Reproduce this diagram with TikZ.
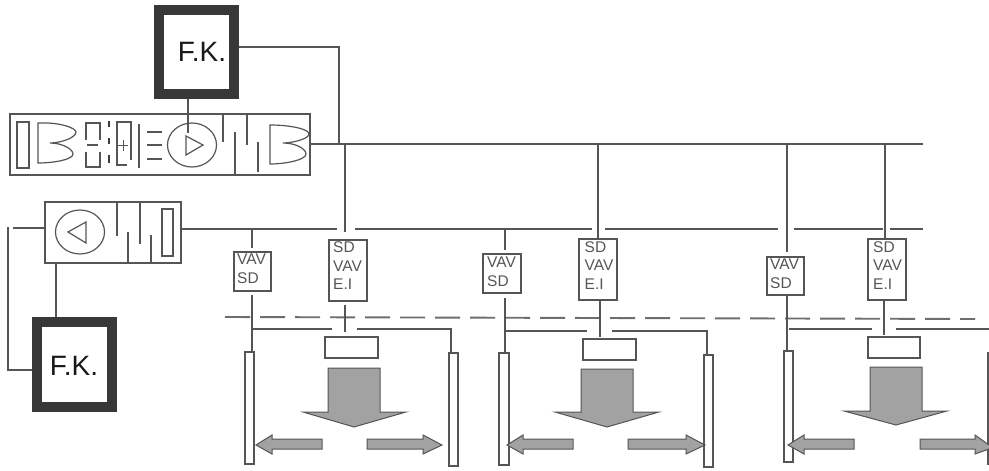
\documentclass[tikz,border=0pt]{standalone}
\usepackage{fontspec}
\usetikzlibrary{shapes.geometric}
\setmainfont{Liberation Sans}
\definecolor{ln}{HTML}{555555}
\definecolor{fkc}{HTML}{383838}
\definecolor{grayfill}{HTML}{A2A2A2}
\newcommand{\bx}[6][plain]{%
  \pgfmathsetmacro{\cxx}{(#3+#5)/2}\pgfmathsetmacro{\cyy}{(#4+#6)/2}%
  \pgfmathsetmacro{\wdd}{#5-#3}\pgfmathsetmacro{\htt}{#6-#4}%
  \node[#1,minimum width=\wdd pt,minimum height=\htt pt] (#2) at (\cxx,\cyy) {};}
\tikzset{
  plain/.style={draw=ln,line width=1.2pt,fill=white,inner sep=0pt,outer sep=0pt},
  fkbox/.style={draw=fkc,line width=10pt,fill=white,inner sep=0pt,outer sep=0pt},
  wire/.style={draw=ln,line width=1.2pt},
  flow/.style={draw=ln,line width=1pt,fill=grayfill,line join=miter},
  fk/.style={font=\fontsize{28}{28}\selectfont,text=black!90,inner sep=0pt},
  vavtxt/.style={font=\fontsize{15.5}{18.5}\selectfont,text=ln,align=left,inner sep=0pt,anchor=north west},
  ceiling/.style={draw=ln!85,line width=1.9pt,dash pattern=on 25pt off 10pt},
  fan/.style={draw=ln,line width=1.2pt,ellipse,minimum width=49pt,minimum height=44pt,inner sep=0pt,outer sep=0pt,fill=white}
}
\begin{document}
\begin{tikzpicture}[x=1pt,y=-1pt]
\useasboundingbox (0,0) rectangle (989,471);
\fill[white] (0,0) rectangle (989,471);
% ---- main ducts
\coordinate (sA) at (310,144);\coordinate (sE) at (923,144);
\coordinate (s1) at (345,144);\coordinate (s2) at (598,144);\coordinate (s3) at (787,144);\coordinate (s4) at (885,144);
\coordinate (r1) at (252,229);\coordinate (r2) at (505,229);
\draw[wire] (sA) -- (sE);
% ---- fan coil boxes
\bx[fkbox]{fkA}{159}{9.5}{234}{94}
\node[fk] (fkAt) at (202,51.5) {F.K.};
\bx[fkbox]{fkB}{37}{322}{111.5}{407}
\node[fk] (fkBt) at (74,365.5) {F.K.};
% ---- supply AHU
\bx{ahuA}{10}{114}{310}{175}
\bx{a1}{17}{122}{29}{168}
\draw[wire] (38,123) .. controls (60,122) and (76,128) .. (76,132) .. controls (76,138) and (60,143) .. (50,143) .. controls (62,143) and (73,149) .. (73,154) .. controls (73,160) and (52,163) .. (38,163) -- cycle;
\draw[wire] (86,140) -- (86,123) -- (100,123) -- (100,140);
\draw[wire] (86,152) -- (86,167) -- (100,167) -- (100,152);
\draw[wire] (87,145) -- (98,145);
\draw[draw=ln!70!black,line width=2.2pt] (109,121) -- (109,127) (109,138) -- (109,144) (109,155) -- (109,163);
\draw[wire] (127,165) -- (117,165) -- (117,122) -- (131,122) -- (131,160);
\draw[wire,line width=.9pt] (118,145) -- (128,145) (123,140) -- (123,151);
\draw[wire] (139,124) -- (139,168);
\draw[wire] (147,132) -- (162,132) (147,145) -- (162,145) (147,159) -- (162,159);
\node[fan] (fanA) at (192,145) {};
\draw[wire] (186,136) -- (203,145) -- (186,155) -- cycle;
\draw[wire] (223,114) -- (223,142) (247,114) -- (247,145) (235,132) -- (235,175) (258,142) -- (258,172);
\draw[wire] (270,125) .. controls (290,125) and (309,129) .. (309,134) .. controls (309,139) and (292,143) .. (283,143) .. controls (296,143) and (306,149) .. (306,154) .. controls (306,160) and (285,164) .. (270,164) -- cycle;
% ---- return AHU
\bx{ahuB}{45}{202}{181}{263}
\node[fan] (fanB) at (80,232) {};
\draw[wire] (68,232) -- (86,222) -- (86,243) -- cycle;
\draw[wire] (117,202) -- (117,236) (140,202) -- (140,244) (128,232) -- (128,263) (151,235) -- (151,263);
\bx{b1}{162}{209}{173}{256}
% ---- fan-coil wiring
\draw[wire] (188,99) -- (188,133);
\draw[wire] (239,47) -- (339,47) -- (339,143);
\draw[wire] (56,263) -- (56,317);
\coordinate (lt) at (13,228);
\draw[wire] (ahuB.west |- lt) -- (lt);
\draw[wire] (8,227) -- (8,370) -- (32,370);
% ---- return duct
\draw[wire] (181,229) -- (337,229) (355,229) -- (592,229) (605,229) -- (778,229) (794,229) -- (883,229) (890,229) -- (923,229);
% ---- ceiling line
\draw[ceiling] (225,317) -- (975,319);
% ---- Unit 1
\bx{va}{234}{252}{271}{291}
\node[vavtxt] (vat) at (237,254) {VAV\\SD};
\bx{sa}{329}{240}{367}{301}
\node[vavtxt] (sat) at (333,241.5) {SD\\VAV\\E.I};
\draw[wire,shorten >=4.5pt] (r1) -- (r1 |- va.north);
\draw[wire] (252,295) -- (252,352);
\draw[wire,shorten >=8pt] (s1) -- (s1 |- sa.north);
\draw[wire] (345,305) -- (345,332);
\draw[wire] (252,329) -- (332,329) (357,329) -- (451,329) -- (451,353);
\bx{da}{325}{337}{378}{358}
\bx{la}{245}{352}{254}{464}
\bx{ra}{449}{353}{458}{466}
\draw[flow] (328,368) -- (380,368) -- (380,412) -- (406,412) -- (354,427) -- (303,412) -- (328,412) -- cycle;
\draw[flow] (256,445) -- (272,435) -- (272,439) -- (322,439) -- (322,449) -- (272,449) -- (272,454) -- cycle;
\draw[flow] (442,445) -- (423,435) -- (423,439) -- (367,439) -- (367,449) -- (423,449) -- (423,454) -- cycle;
% ---- Unit 2
\bx{vb}{483}{254}{521}{293}
\node[vavtxt] (vbt) at (487,257) {VAV\\SD};
\bx{sb}{579}{239}{617}{300}
\node[vavtxt] (sbt) at (584.5,241) {SD\\VAV\\E.I};
\draw[wire,shorten >=4pt] (r2) -- (r2 |- vb.north);
\draw[wire] (505,298) -- (505,352);
\draw[wire] (s2) -- (s2 |- sb.north);
\draw[wire] (600,300) -- (600,337);
\draw[wire] (505,331) -- (587,331) (612,331) -- (707,331) -- (707,355);
\bx{db}{583}{339}{636}{360}
\bx{lb}{499}{353}{509}{465}
\bx{rb}{704}{355}{713}{467}
\draw[flow] (581,369) -- (633,369) -- (633,412) -- (659,412) -- (607,427) -- (555,412) -- (581,412) -- cycle;
\draw[flow] (507,445) -- (523,435) -- (523,439) -- (573,439) -- (573,449) -- (523,449) -- (523,454) -- cycle;
\draw[flow] (705,445) -- (686,435) -- (686,439) -- (628,439) -- (628,449) -- (686,449) -- (686,454) -- cycle;
% ---- Unit 3
\bx{vc}{767}{257}{804}{295}
\node[vavtxt] (vct) at (770,259) {VAV\\SD};
\bx{sc}{868}{239}{906}{300}
\node[vavtxt] (sct) at (873,241) {SD\\VAV\\E.I};
\draw[wire,shorten >=5.5pt] (s3) -- (s3 |- vc.north);
\draw[wire] (787,295) -- (787,350);
\draw[wire] (s4) -- (s4 |- sc.north);
\draw[wire] (884,300) -- (884,335);
\draw[wire] (789,329) -- (872,329) (896,329) -- (989,329);
\bx{dc}{868}{337}{920}{358}
\bx{lc}{784}{351}{793}{462}
\draw[draw=ln,line width=2pt] (988,352) -- (988,465);
\draw[flow] (870,367) -- (922,367) -- (922,411) -- (947,411) -- (896,425) -- (844,411) -- (870,411) -- cycle;
\draw[flow] (788,445) -- (804,435) -- (804,439) -- (854,439) -- (854,449) -- (804,449) -- (804,454) -- cycle;
\draw[flow] (989,445) -- (975,435) -- (975,439) -- (920,439) -- (920,449) -- (975,449) -- (975,454) -- (989,449);
\end{tikzpicture}
\end{document}
